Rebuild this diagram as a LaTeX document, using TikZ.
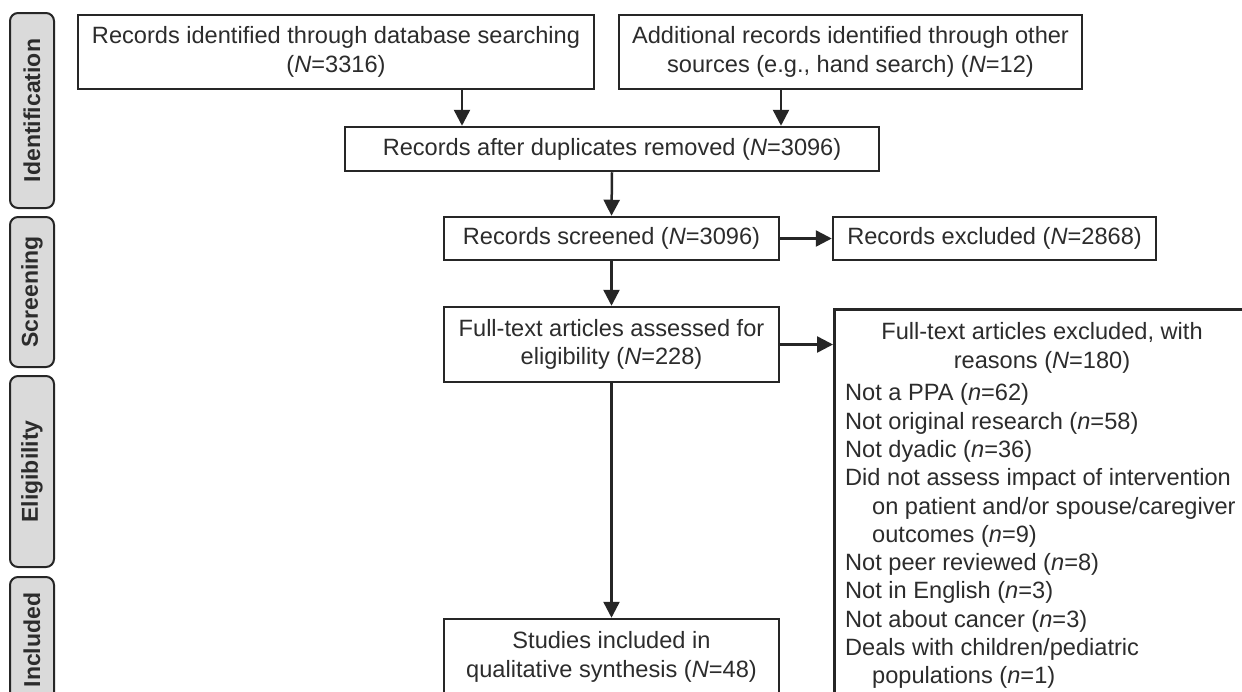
\documentclass[tikz,border=0pt]{standalone}
\usepackage{fontspec}
\setmainfont{Liberation Sans}
\usetikzlibrary{arrows.meta,calc}
\definecolor{ink}{HTML}{262626}
\definecolor{txtc}{HTML}{2C2C2C}
\definecolor{tabfill}{HTML}{DADADA}
\begin{document}
\begin{tikzpicture}[x=1pt,y=-1pt,
  box/.style={draw=ink,line width=2.5pt,align=center,inner sep=0pt,text=txtc,font=\fontsize{23.6}{28.3}\selectfont},
  txt/.style={inner sep=0pt,text=txtc,font=\fontsize{23.6}{28.3}\selectfont},
  tab/.style={draw=ink,fill=tabfill,line width=2pt,rounded corners=8pt,minimum height=44pt,inner sep=0pt,rotate=90,text=txtc,font=\fontsize{23}{26}\selectfont\bfseries},
  arr/.style={draw=ink,line width=2.5pt,-{Triangle[length=16pt,width=16pt]}}]
\useasboundingbox (0,0) rectangle (1242,691);
\clip (0,0) rectangle (1242,691);
\fill[white] (0,0) rectangle (1242,691);
% phase tabs
\node[tab,minimum width=195pt] (tid) at (32,110.5) {Identification};
\node[tab,minimum width=150pt] (tsc) at (32,292) {Screening};
\node[tab,minimum width=191pt] (tel) at (32,471.5) {Eligibility};
\node[tab,minimum width=126pt] (tin) at (32,640) {Included};
% boxes
\node[box,minimum width=516pt,minimum height=74pt] (b1) at (336,52) {Records identified through database searching\\(\textit{N}=3316)};
\node[box,minimum width=463pt,minimum height=74pt] (b2) at (850.5,52) {Additional records identified through other\\sources (e.g., hand search) (\textit{N}=12)};
\node[box,minimum width=534pt,minimum height=44pt] (dup) at (612,149) {Records after duplicates removed (\textit{N}=3096)};
\node[box,minimum width=335pt,minimum height=43pt] (scr) at (611.5,238.5) {Records screened (\textit{N}=3096)};
\node[box,minimum width=323pt,minimum height=43pt] (exc) at (994.5,238.5) {Records excluded (\textit{N}=2868)};
\node[box,minimum width=335pt,minimum height=75pt] (ft) at (611.5,344.5) {Full-text articles assessed for\\eligibility (\textit{N}=228)};
\node[box,minimum width=335pt,minimum height=76pt] (inc) at (611.5,657) {Studies included in\\qualitative synthesis (\textit{N}=48)};
\node[draw=ink,line width=2.5pt,minimum width=420pt,minimum height=420pt,anchor=north west,inner sep=0pt] (ftx) at (833,308) {};
\node[txt,align=center] (ftxh) at (1042,348) {Full-text articles excluded, with\\reasons (\textit{N}=180)};
\node[txt,align=left,anchor=north west] (ftxl) at (845,383.5) {Not a PPA (\textit{n}=62)\\
Not original research (\textit{n}=58)\\
Not dyadic (\textit{n}=36)\\
Did not assess impact of intervention\\
\hspace*{27pt}on patient and/or spouse/caregiver\\
\hspace*{27pt}outcomes (\textit{n}=9)\\
Not peer reviewed (\textit{n}=8)\\
Not in English (\textit{n}=3)\\
Not about cancer (\textit{n}=3)\\
Deals with children/pediatric\\
\hspace*{27pt}populations (\textit{n}=1)};
% connectors
\draw[arr] ([xshift=126pt]b1.south) -- ([xshift=126pt]b1.south |- dup.north);
\draw[arr] ([xshift=-69.5pt]b2.south) -- ([xshift=-69.5pt]b2.south |- dup.north);
\draw[arr] (dup.south) -- (scr.north);
\draw[arr] (scr.south) -- (ft.north);
\draw[arr] (ft.south) -- (inc.north);
\draw[arr] (scr.east) -- (exc.west);
\draw[arr] (ft.east) -- (ft.east -| ftx.west);
\end{tikzpicture}
\end{document}
